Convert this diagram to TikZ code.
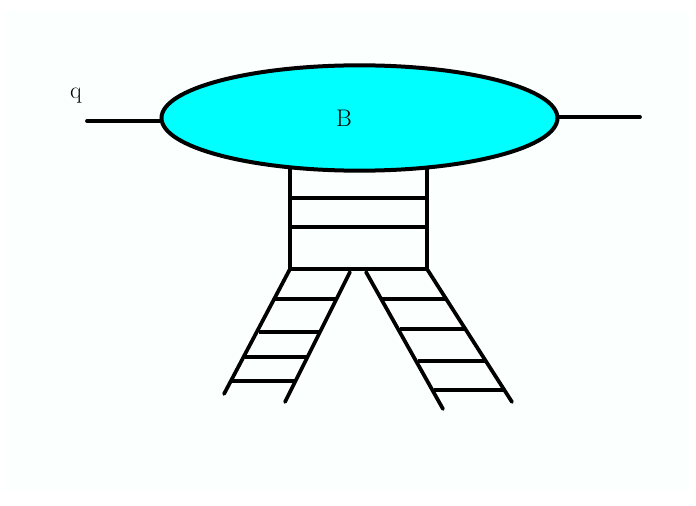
\documentclass[tikz,border=0pt]{standalone}
\usepackage{tikz}
\usetikzlibrary{shapes.geometric}
\definecolor{blobcyan}{RGB}{0,255,255}
\definecolor{paper}{RGB}{251,255,253}

\begin{document}
\begin{tikzpicture}[
    x=0.75pt, y=-0.75pt,
    blob/.style={draw, line width=3pt, ellipse, inner sep=0pt, minimum width=297pt, minimum height=79pt, fill=blobcyan},
    lbl/.style={inner sep=0pt, font=\fontsize{18}{20}\selectfont},
    leg/.style={line width=2.8pt, line cap=round},
    rung/.style={line width=2.4pt}
]

\useasboundingbox (0,0) rectangle (696,506);
\fill[white] (0,0) rectangle (696,506);
\fill[paper] (6,10) rectangle (689,491);

% outside lines
\coordinate (qend) at (87,121);
\coordinate (outend) at (640,117);
\coordinate (qjoin) at (165,121);
\coordinate (outjoin) at (555,117);
\draw[leg] (qend) -- (qjoin);
\draw[leg] (outjoin) -- (outend);

% box under the blob
\coordinate (tl) at (290,160);
\coordinate (tr) at (427,160);
\coordinate (bl) at (290,269);
\coordinate (br) at (427,269);
\draw[leg] (tl) -- (bl) -- (br) -- (tr);
\coordinate (r1l) at (290,198);
\coordinate (r1r) at (427,198);
\coordinate (r2l) at (290,227);
\coordinate (r2r) at (429,227);
\draw[rung] (r1l) -- (r1r);
\draw[rung] (r2l) -- (r2r);

\node[blob] (bubble) at (359.5,118) {};
\node[lbl] (blabel) at (344,118) {B};
\node[lbl] (qlabel) at (76,96) {q};

% left ladder
\coordinate (la) at (350,272);
\coordinate (lb) at (285,402);
\coordinate (lc) at (224,394);
\draw[leg] (bl) -- (lc);
\draw[leg] (la) -- (lb);
\coordinate (l1a) at (275,299);
\coordinate (l1b) at (336,299);
\coordinate (l2a) at (259,332);
\coordinate (l2b) at (319,332);
\coordinate (l3a) at (245,357);
\coordinate (l3b) at (307,357);
\coordinate (l4a) at (231,381);
\coordinate (l4b) at (296,381);
\draw[rung] (l1a) -- (l1b);
\draw[rung] (l2a) -- (l2b);
\draw[rung] (l3a) -- (l3b);
\draw[rung] (l4a) -- (l4b);

% right ladder
\coordinate (ra) at (366,272);
\coordinate (rb) at (443,409);
\coordinate (rc) at (512,402);
\draw[leg] (br) -- (rc);
\draw[leg] (ra) -- (rb);
\coordinate (r3a) at (381,299);
\coordinate (r3b) at (447,299);
\coordinate (r4a) at (400,329);
\coordinate (r4b) at (465,329);
\coordinate (r5a) at (418,361);
\coordinate (r5b) at (485,361);
\coordinate (r6a) at (434,390);
\coordinate (r6b) at (504,390);
\draw[rung] (r3a) -- (r3b);
\draw[rung] (r4a) -- (r4b);
\draw[rung] (r5a) -- (r5b);
\draw[rung] (r6a) -- (r6b);

\end{tikzpicture}
\end{document}
